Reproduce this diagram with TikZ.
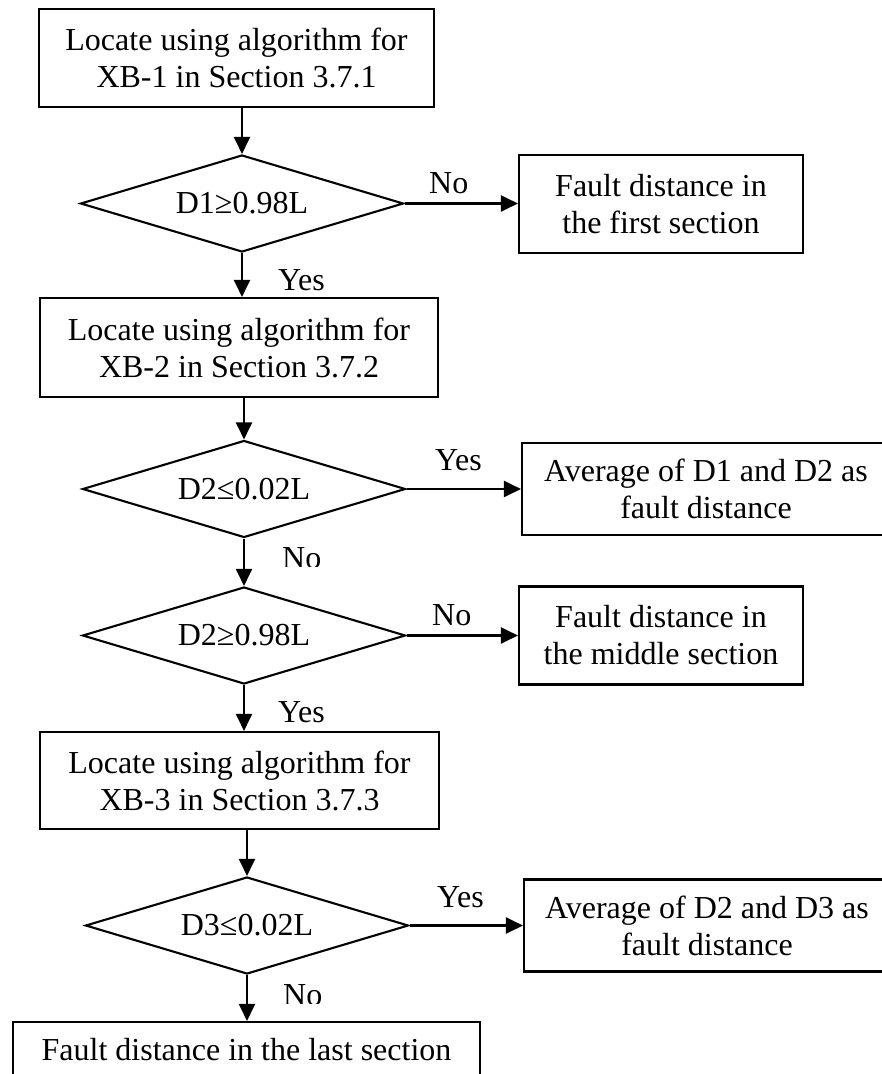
\documentclass[tikz,border=0pt]{standalone}
\usepackage{fontspec}
\setmainfont{Liberation Serif}
\usetikzlibrary{shapes.geometric,arrows.meta}
\begin{document}
\begin{tikzpicture}[x=1pt,y=-1pt,
  every node/.style={font=\fontsize{32}{37}\selectfont, inner sep=0pt},
  box/.style={draw, line width=2.1pt, align=center},
  dec/.style={draw, diamond, line width=2.1pt, minimum width=323pt, minimum height=97pt, aspect=3.3},
  lbl/.style={anchor=base west},
  arr/.style={line width=2.1pt, -{Triangle[length=17pt,width=16pt]}}]
\clip (0,0) rectangle (882,1074);
\fill[white] (0,0) rectangle (882,1074);
% process boxes
\node[box, minimum width=395pt, minimum height=98pt] (b1) at (236.5,58) {Locate using algorithm for\\XB-1 in Section 3.7.1};
\node[box, minimum width=398pt, minimum height=99pt] (b2) at (239,347.5) {Locate using algorithm for\\XB-2 in Section 3.7.2};
\node[box, minimum width=399pt, minimum height=97pt] (b3) at (239.5,780.5) {Locate using algorithm for\\XB-3 in Section 3.7.3};
% decisions
\node[dec] (d1) at (242,203.5) {D1≥0.98L};
\node[dec] (d2) at (244,489) {D2≤0.02L};
\node[dec] (d3) at (244,635.5) {D2≥0.98L};
\node[dec] (d4) at (247,925.5) {D3≤0.02L};
% outcome boxes
\node[box, minimum width=284pt, minimum height=98pt] (f1) at (661,204) {Fault distance in\\the first section};
\node[box, minimum width=368pt, minimum height=92pt] (a1) at (706,489) {Average of D1 and D2 as\\fault distance};
\node[box, minimum width=284pt, minimum height=98pt] (m1) at (661,635.5) {Fault distance in\\the middle section};
\node[box, minimum width=366pt, minimum height=92pt] (a2) at (707,925.5) {Average of D2 and D3 as\\fault distance};
\node[box, minimum width=467pt, minimum height=61pt, text height=22pt, text depth=7pt, anchor=base] (last) at (246.5,1060) {Fault distance in the last section};
% vertical connectors
\draw[arr] (b1.south -| d1.north) -- (d1.north);
\draw[arr] (d1.south) -- (d1.south |- b2.north);
\draw[arr] (b2.south -| d2.north) -- (d2.north);
\draw[arr] (d2.south) -- (d3.north);
\draw[arr] (d3.south) -- (d3.south |- b3.north);
\draw[arr] (b3.south -| d4.north) -- (d4.north);
\draw[arr] (d4.south) -- (d4.south |- last.north);
% horizontal connectors
\draw[arr] (d1.east) -- (d1.east -| f1.west);
\draw[arr] (d2.east) -- (d2.east -| a1.west);
\draw[arr] (d3.east) -- (d3.east -| m1.west);
\draw[arr] (d4.east) -- (d4.east -| a2.west);
% labels
\node[lbl] (n1) at (429,193) {No};
\node[lbl] (y1) at (278,290) {Yes};
\node[lbl] (y2) at (435,470) {Yes};
\begin{scope}
\clip (0,0) rectangle (882,566);
\node[lbl] (n2) at (282,568) {No};
\end{scope}
\node[lbl] (n3) at (432,625) {No};
\node[lbl] (y3) at (278,722) {Yes};
\node[lbl] (y4) at (437,907) {Yes};
\begin{scope}
\clip (0,0) rectangle (882,1003);
\node[lbl] (n4) at (283,1005.5) {No};
\end{scope}
\end{tikzpicture}
\end{document}
